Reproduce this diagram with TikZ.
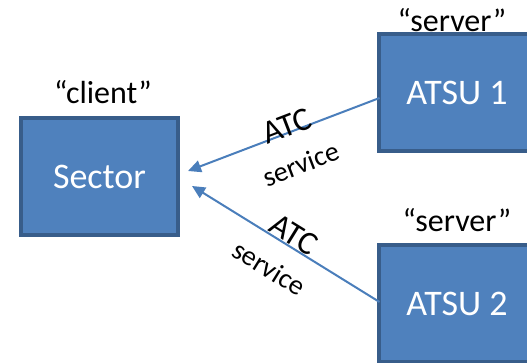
\documentclass[tikz,border=0pt]{standalone}
\usepackage{fontspec}
\setmainfont{Carlito}
\usetikzlibrary{arrows.meta,calc}
\definecolor{boxfill}{HTML}{4F81BD}
\definecolor{boxline}{HTML}{385D8A}
\definecolor{arrowcol}{HTML}{4A7EBB}
\tikzset{
  unitbox/.style={draw=boxline, fill=boxfill, line width=4pt, minimum width=157pt, minimum height=117pt, text=white, font=\fontsize{36}{36}\selectfont, inner sep=0pt},
  roletext/.style={font=\fontsize{32}{32}\selectfont, anchor=base, inner sep=0pt},
  conn/.style={draw=arrowcol, line width=2pt, -{Triangle[length=13pt,width=12pt]}},
  big/.style={font=\fontsize{33}{33}\selectfont, inner sep=0pt},
  small/.style={font=\fontsize{28}{28}\selectfont, inner sep=0pt}
}
\begin{document}
\begin{tikzpicture}[x=1pt,y=1pt]
\clip (0,0) rectangle (527,363);
\useasboundingbox (0,0) rectangle (527,363);
\fill[white] (0,0) rectangle (527,363);
\node[unitbox] (sector) at (99.5,186) {Sector};
\node[unitbox] (atsu1) at (457,270.5) {ATSU 1};
\node[unitbox] (atsu2) at (457,59.5) {ATSU 2};
\node[roletext] (client) at (103,259) {“client”};
\node[roletext] (server1) at (452,331) {“server”};
\node[roletext] (server2) at (457,131) {“server”};
\coordinate (s1) at ($(atsu1.west)+(3,-5.5)$);
\coordinate (s2) at ($(atsu2.west)+(3,1.5)$);
\coordinate (t1) at ($(sector.east)+(8,6)$);
\coordinate (t2) at ($(sector.east)+(12,-9)$);
\draw[conn] (s1) -- (t1);
\draw[conn] (s2) -- (t2);
\node[big, rotate=21] (atc1) at (287,237) {ATC};
\node[small, rotate=21] (svc1) at (301,199) {service};
\node[big, rotate=-31.7] (atc2) at (294,128) {ATC};
\node[small, rotate=-31.7] (svc2) at (269,95) {service};
\end{tikzpicture}
\end{document}
